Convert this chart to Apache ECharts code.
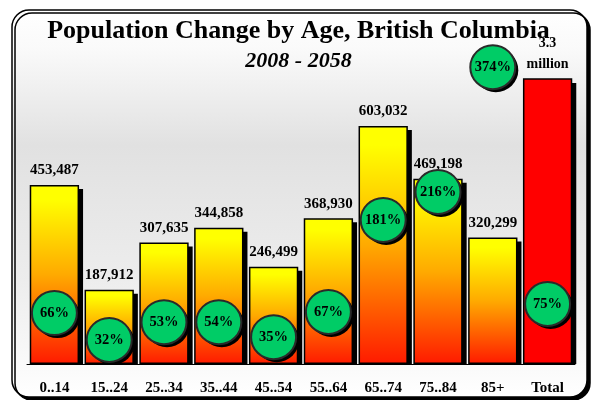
<!DOCTYPE html>
<html>
<head>
<meta charset="utf-8">
<script src="https://cdn.jsdelivr.net/npm/echarts@6/dist/echarts.min.js"></script>
<style>
  html, body { margin: 0; padding: 0; background: #fff; }
  #eChart { width: 597px; height: 400px; }
</style>
</head>
<body>
<div id="eChart"></div>
<script>
// age groups along the x axis
var categories = ['0..14', '15..24', '25..34', '35..44', '45..54', '55..64', '65..74', '75..84', '85+', 'Total'];
// population change 2008-2058
var popChange = [453487, 187912, 307635, 344858, 246499, 368930, 603032, 469198, 320299, 3300000];
// percentage change, shown in the green badges
var pctChange = [66, 32, 53, 54, 35, 67, 181, 216, 374, 75];
// vertical placement of each badge, in axis units
var badgeLevel = [129000, 61000, 106000, 106000, 68000, 132000, 365000, 436000, 752000, 152000];

var serif = '"Liberation Serif", "Times New Roman", serif';
var barGapRatio = 0.1;

var barFill = new echarts.graphic.LinearGradient(0, 0, 0, 1, [
    { offset: 0, color: '#ffff00' },
    { offset: 0.08, color: '#ffff00' },
    { offset: 0.5, color: '#ffaa00' },
    { offset: 1, color: '#ff1a00' }
]);

// black drop shadow behind each bar, stops at the axis line
function renderBarShadow(params, api) {
    var cs = params.coordSys;
    var top = api.coord([api.value(0), api.value(1)]);
    var base = api.coord([api.value(0), 0]);
    var w = api.size([1, 0])[0] * (1 - barGapRatio);
    var y = Math.max(top[1], cs.y) + 4;
    return {
        type: 'rect',
        shape: { x: top[0] - w / 2 + 4, y: y, width: w, height: base[1] - y },
        style: { fill: '#000' }
    };
}

var option = {
    animation: false,
    backgroundColor: '#fff',
    graphic: [
        {
            type: 'rect',
            z: -10,
            shape: { x: 12, y: 10, width: 575, height: 387, r: 17 },
            style: {
                fill: new echarts.graphic.LinearGradient(0, 0, 0, 1, [
                    { offset: 0, color: '#ffffff' },
                    { offset: 0.1, color: '#fafafa' },
                    { offset: 0.35, color: '#e1e1e1' },
                    { offset: 0.7, color: '#ededed' },
                    { offset: 1, color: '#ffffff' }
                ]),
                stroke: '#000',
                lineWidth: 1.5,
                shadowColor: '#000',
                shadowOffsetX: 3,
                shadowOffsetY: 3
            }
        }
    ],
    title: [
        {
            text: 'Population Change by Age, British Columbia',
            left: 'center',
            top: 13,
            textStyle: { fontFamily: serif, fontWeight: 'bold', fontSize: 26, color: '#000' }
        },
        {
            text: '2008 - 2058',
            left: 'center',
            top: 45,
            textStyle: { fontFamily: serif, fontWeight: 'bold', fontStyle: 'italic', fontSize: 22, color: '#000' }
        }
    ],
    grid: { left: 27, right: 22, top: 79, bottom: 36 },
    xAxis: {
        type: 'category',
        data: categories,
        axisLine: { lineStyle: { color: '#000', width: 1 } },
        axisTick: { length: 6, lineStyle: { color: '#000' } },
        axisLabel: {
            margin: 17,
            color: '#000',
            fontFamily: serif,
            fontWeight: 'bold',
            fontSize: 15
        }
    },
    yAxis: {
        type: 'value',
        min: 0,
        max: 722000,
        show: false,
        splitLine: { show: false }
    },
    series: [
        {
            name: 'shadow',
            type: 'custom',
            z: 1,
            silent: true,
            clip: false,
            renderItem: renderBarShadow,
            data: popChange.map(function (v, i) { return [i, v]; })
        },
        {
            name: 'change',
            type: 'bar',
            z: 2,
            barCategoryGap: (barGapRatio * 100) + '%',
            clip: true,
            data: popChange.map(function (v, i) {
                var item = {
                    value: v,
                    itemStyle: { color: categories[i] == 'Total' ? '#ff0000' : barFill }
                };
                if (v >= 1000000) item.label = { distance: 3 };
                return item;
            }),
            itemStyle: {
                borderColor: '#000',
                borderWidth: 1.5
            },
            label: {
                show: true,
                position: 'top',
                distance: 7,
                color: '#000',
                fontFamily: serif,
                fontWeight: 'bold',
                fontSize: 15,
                formatter: function (p) {
                    if (p.value >= 1000000) {
                        return '{s|' + (p.value / 1000000).toFixed(1) + '}\n{s|million}';
                    }
                    return p.value.toLocaleString('en-US');
                },
                rich: {
                    s: { fontFamily: serif, fontWeight: 'bold', fontSize: 14, lineHeight: 21, color: '#000' }
                }
            }
        },
        {
            name: 'badgeShadow',
            type: 'scatter',
            clip: false,
            silent: true,
            z: 4,
            symbol: 'circle',
            symbolSize: [45, 44],
            symbolOffset: [3, 3],
            data: badgeLevel.map(function (v, i) { return [i, v]; }),
            itemStyle: { color: '#000', opacity: 1 }
        },
        {
            name: 'pct',
            type: 'scatter',
            clip: false,
            z: 5,
            symbol: 'circle',
            symbolSize: [45, 44],
            data: badgeLevel.map(function (v, i) { return [i, v]; }),
            itemStyle: {
                color: '#00cc66',
                borderColor: '#2a2a2a',
                borderWidth: 2,
                opacity: 1
            },
            label: {
                show: true,
                position: 'inside',
                color: '#000',
                fontFamily: serif,
                fontWeight: 'bold',
                fontSize: 14.5,
                formatter: function (p) { return pctChange[p.dataIndex] + '%'; }
            }
        }
    ]
};

var chart = echarts.init(document.getElementById('eChart'));
chart.setOption(option);
</script>
</body>
</html>
